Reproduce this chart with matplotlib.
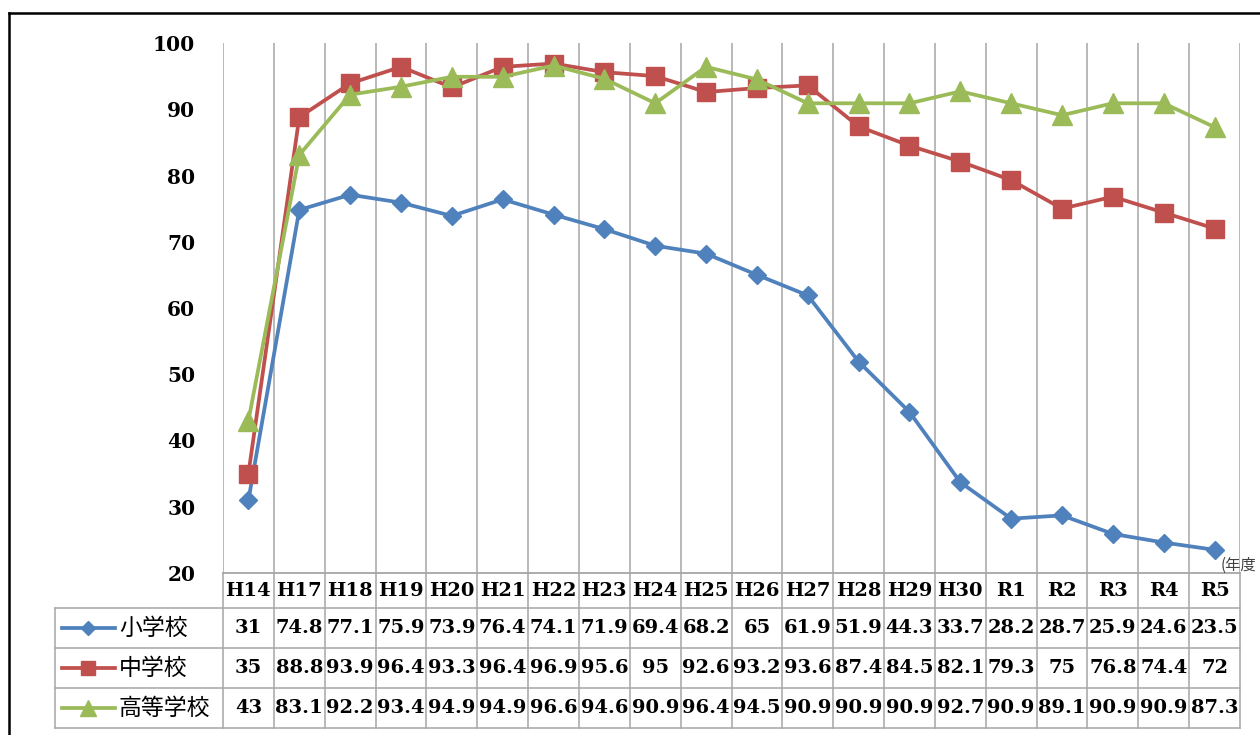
import numpy as np
import matplotlib
matplotlib.use('Agg')
import matplotlib.pyplot as plt
from matplotlib.lines import Line2D
import matplotlib.transforms as mtrans

plt.rcParams['font.family'] = ['DejaVu Serif', 'Noto Sans CJK JP']

# data
years = ['H14', 'H17', 'H18', 'H19', 'H20', 'H21', 'H22', 'H23', 'H24', 'H25',
         'H26', 'H27', 'H28', 'H29', 'H30', 'R1', 'R2', 'R3', 'R4', 'R5']
elementary = [31, 74.8, 77.1, 75.9, 73.9, 76.4, 74.1, 71.9, 69.4, 68.2,
              65, 61.9, 51.9, 44.3, 33.7, 28.2, 28.7, 25.9, 24.6, 23.5]
junior = [35, 88.8, 93.9, 96.4, 93.3, 96.4, 96.9, 95.6, 95, 92.6,
          93.2, 93.6, 87.4, 84.5, 82.1, 79.3, 75, 76.8, 74.4, 72]
high = [43, 83.1, 92.2, 93.4, 94.9, 94.9, 96.6, 94.6, 90.9, 96.4,
        94.5, 90.9, 90.9, 90.9, 92.7, 90.9, 89.1, 90.9, 90.9, 87.3]
series_names = ['小学校', '中学校', '高等学校']

series = [elementary, junior, high]
colors = ['#4F81BD', '#C0504D', '#9BBB59']
markers = ['D', 's', '^']
msizes = [9.5, 12.5, 14]
leg_msizes = [7.5, 10, 11]

W, H = 1260, 735
fig = plt.figure(figsize=(W / 100, H / 100), dpi=100)

# outer frame
fig.add_artist(Line2D([9 / W, 9 / W], [0, 1 - 13 / H], color='black', lw=1.8))
fig.add_artist(Line2D([9 / W, 1], [1 - 13 / H, 1 - 13 / H], color='black', lw=1.8))

x0, x1, y0, y1 = 223, 1240, 573, 43
ax = fig.add_axes([x0 / W, 1 - y0 / H, (x1 - x0) / W, (y0 - y1) / H])
n = len(years)
x = np.arange(n)
ax.set_xlim(-0.5, n - 0.5)
ax.set_ylim(20, 100)
for s in ax.spines.values():
    s.set_visible(False)
ax.set_xticks([])
ax.set_yticks(range(20, 101, 10))
ax.tick_params(axis='y', length=0, pad=20, labelsize=14.5)
for lab in ax.get_yticklabels():
    lab.set_fontweight('bold')

grid_c = '#A6A6A6'
for b in np.arange(n + 1) - 0.5:
    ax.axvline(b, color=grid_c, lw=1.1, zorder=0)

for vals, c, m, ms in zip(series, colors, markers, msizes):
    ax.plot(x, vals, color=c, lw=2.7, marker=m, markersize=ms, zorder=3)

ax.text(1221 / W, 1 - 565 / H, '(年度', transform=fig.transFigure, fontsize=11,
        color='#404040', va='center', ha='left', family=['Noto Sans CJK JP'])

# data table below axis
ph = y0 - y1
def yf(py):
    return (y0 - py) / ph

tr = mtrans.blended_transform_factory(ax.transData, ax.transAxes)
row_edges = [573, 608, 648, 688, 728]
for py in row_edges:
    if py == 573:
        ax.plot([-0.5, n - 0.5], [yf(py)] * 2, transform=tr, color=grid_c, lw=1.3, clip_on=False)
    else:
        ax.plot([(55 - x0) / (x1 - x0), 1], [yf(py)] * 2, transform=ax.transAxes,
                color=grid_c, lw=1.1, clip_on=False)
for b in np.arange(n + 1) - 0.5:
    ax.plot([b, b], [0, yf(728)], transform=tr, color=grid_c, lw=1.1, clip_on=False)
ax.plot([(55 - x0) / (x1 - x0)] * 2, [yf(608), yf(728)], transform=ax.transAxes,
        color=grid_c, lw=1.1, clip_on=False)

for i, yr in enumerate(years):
    ax.text(i, yf(591), yr, transform=tr, ha='center', va='center',
            fontsize=14, fontweight='bold', clip_on=False)

for r, (vals, name, c, m, ms) in enumerate(zip(series, series_names, colors, markers, leg_msizes)):
    yc = yf(628 + 40 * r)
    for i, v in enumerate(vals):
        ax.text(i, yc, f'{v:g}', transform=tr, ha='center', va='center',
                fontsize=14, fontweight='bold', clip_on=False)
    ax.plot([(62 - x0) / (x1 - x0), (115 - x0) / (x1 - x0)], [yc, yc], transform=ax.transAxes,
            color=c, lw=2.7, clip_on=False)
    ax.plot([(88 - x0) / (x1 - x0)], [yc], transform=ax.transAxes, color=c, marker=m,
            markersize=ms, clip_on=False, lw=0)
    ax.text((119 - x0) / (x1 - x0), yc, name, transform=ax.transAxes, ha='left', va='center',
            fontsize=16.5, family=['Noto Sans CJK JP'], clip_on=False)

plt.savefig('out.png', dpi=100)
